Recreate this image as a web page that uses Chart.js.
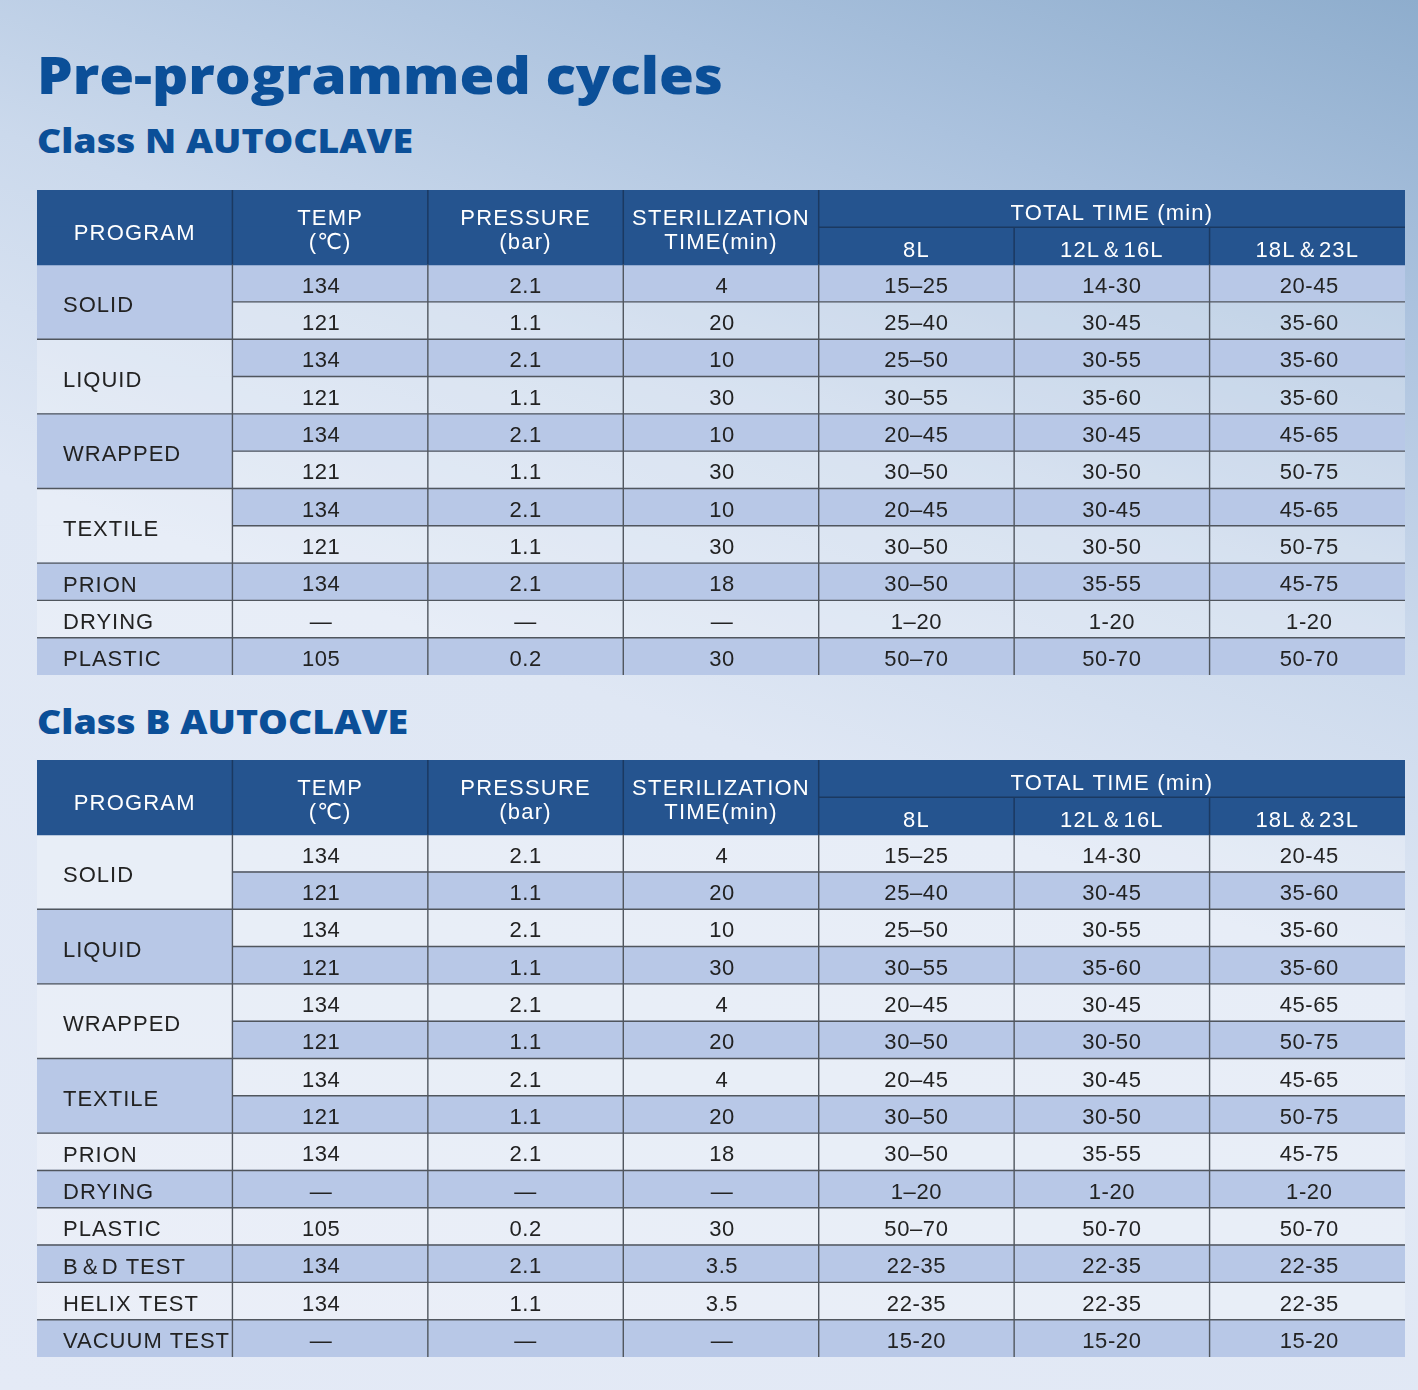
<!DOCTYPE html>
<html>
<head>
<meta charset="utf-8">
<script src="https://cdn.jsdelivr.net/npm/chart.js@4"></script>
<style>
html, body { margin: 0; padding: 0; }
body {
    width: 1418px; height: 1390px; position: relative; overflow: hidden;
    background: linear-gradient(200deg, #8eadcd 0%, #abc2de 16%, #cbd9ec 34%, #dfe7f4 52%, #e4eaf6 100%);
}
.ttl {
    position: absolute; left: 37px; margin: 0; color: #0b4f98;
    font-family: "Open Sans", "DejaVu Sans", sans-serif; font-weight: 800;
    line-height: 1; white-space: nowrap; transform-origin: 0 0;
}
canvas { position: absolute; left: 37px; }
</style>
</head>
<body>
<h1 class="ttl" id="t1" style="top:48px;font-size:52px" data-w="686">Pre-programmed cycles</h1>
<h2 class="ttl" id="t2" style="top:124px;font-size:33px" data-w="376">Class N AUTOCLAVE</h2>
<h2 class="ttl" id="t3" style="top:704px;font-size:34px" data-w="371">Class B AUTOCLAVE</h2>
<canvas id="tableN" width="1368" height="485" style="top:190px"></canvas>
<canvas id="tableB" width="1368" height="597" style="top:760px"></canvas>
<script>
// cabeceras
const headCols = [['PROGRAM'], ['TEMP', '(℃)'], ['PRESSURE', '(bar)'], ['STERILIZATION', 'TIME(min)']];
const totalLabel = 'TOTAL TIME (min)';
const sizeLabels = ['8L', '12L＆16L', '18L＆23L'];

// Class N
const nPrograms = ['SOLID', 'LIQUID', 'WRAPPED', 'TEXTILE', 'PRION', 'DRYING', 'PLASTIC'];
const nSpans = [2, 2, 2, 2, 1, 1, 1];
const nTemp = ['134', '121', '134', '121', '134', '121', '134', '121', '134', '—', '105'];
const nPressure = ['2.1', '1.1', '2.1', '1.1', '2.1', '1.1', '2.1', '1.1', '2.1', '—', '0.2'];
const nSterTime = ['4', '20', '10', '30', '10', '30', '10', '30', '18', '—', '30'];
const n8L = ['15–25', '25–40', '25–50', '30–55', '20–45', '30–50', '20–45', '30–50', '30–50', '1–20', '50–70'];
const n12L = ['14-30', '30-45', '30-55', '35-60', '30-45', '30-50', '30-45', '30-50', '35-55', '1-20', '50-70'];
const n18L = ['20-45', '35-60', '35-60', '35-60', '45-65', '50-75', '45-65', '50-75', '45-75', '1-20', '50-70'];

// Class B
const bPrograms = ['SOLID', 'LIQUID', 'WRAPPED', 'TEXTILE', 'PRION', 'DRYING', 'PLASTIC', 'B＆D TEST', 'HELIX TEST', 'VACUUM TEST'];
const bSpans = [2, 2, 2, 2, 1, 1, 1, 1, 1, 1];
const bTemp = ['134', '121', '134', '121', '134', '121', '134', '121', '134', '—', '105', '134', '134', '—'];
const bPressure = ['2.1', '1.1', '2.1', '1.1', '2.1', '1.1', '2.1', '1.1', '2.1', '—', '0.2', '2.1', '1.1', '—'];
const bSterTime = ['4', '20', '10', '30', '4', '20', '4', '20', '18', '—', '30', '3.5', '3.5', '—'];
const b8L = ['15–25', '25–40', '25–50', '30–55', '20–45', '30–50', '20–45', '30–50', '30–50', '1–20', '50–70', '22-35', '22-35', '15-20'];
const b12L = ['14-30', '30-45', '30-55', '35-60', '30-45', '30-50', '30-45', '30-50', '35-55', '1-20', '50-70', '22-35', '22-35', '15-20'];
const b18L = ['20-45', '35-60', '35-60', '35-60', '45-65', '50-75', '45-65', '50-75', '45-75', '1-20', '50-70', '22-35', '22-35', '15-20'];

const HEAD = '#25548f';
const BLUE = '#b8c8e7';
const LIGHT = 'rgba(255,255,255,0.25)';
const FONT = '"Liberation Sans", Arial, "DejaVu Sans", sans-serif';
// en el original la columna TEMP va un poco corrida a la izquierda
const colShift = [-9, 0, 1, 0, 0, 2];

// ajustar ancho de los titulos
document.querySelectorAll('.ttl').forEach(el => {
    const w = el.getBoundingClientRect().width;
    el.style.transform = 'scaleX(' + (+el.dataset.w / w) + ')';
});

function tablePlugin(programs, spans, columns) {
    return {
        id: 'tableDraw',
        afterDatasetsDraw(chart) {
            const { ctx, scales: { x, y } } = chart;
            const band = y.getPixelForValue(1) - y.getPixelForValue(0);
            const top = i => y.getPixelForValue(i) - band / 2;
            const mid = i => y.getPixelForValue(i);
            const cx = c => x.getPixelForValue(c);
            const nCols = columns.length + 1;
            const nRows = columns[0].length;
            const bottom = top(2 + nRows);

            ctx.save();
            // lineas de cabecera
            ctx.strokeStyle = '#1b3961';
            ctx.lineWidth = 1.5;
            ctx.beginPath();
            for (let c = 1; c <= 4; c++) { ctx.moveTo(cx(c), top(0)); ctx.lineTo(cx(c), top(2)); }
            for (let c = 5; c < nCols; c++) { ctx.moveTo(cx(c), top(1)); ctx.lineTo(cx(c), top(2)); }
            ctx.moveTo(cx(4), top(1)); ctx.lineTo(cx(nCols), top(1));
            ctx.stroke();

            // lineas de datos
            ctx.strokeStyle = '#50565e';
            ctx.lineWidth = 1.4;
            ctx.beginPath();
            for (let c = 1; c < nCols; c++) { ctx.moveTo(cx(c), top(2)); ctx.lineTo(cx(c), bottom); }
            const groupStart = new Set();
            let acc = 0;
            spans.forEach(n => { groupStart.add(acc); acc += n; });
            for (let r = 1; r < nRows; r++) {
                const yy = top(2 + r);
                ctx.moveTo(groupStart.has(r) ? cx(0) : cx(1), yy);
                ctx.lineTo(cx(nCols), yy);
            }
            ctx.stroke();

            // texto de cabecera
            ctx.fillStyle = '#ffffff';
            ctx.font = '22px ' + FONT;
            ctx.letterSpacing = '1.2px';
            ctx.textAlign = 'center';
            ctx.textBaseline = 'alphabetic';
            const hc = top(1);
            headCols.forEach((lines, c) => {
                const xm = (cx(c) + cx(c + 1)) / 2;
                if (lines.length === 1) ctx.fillText(lines[0], xm, hc + 12.5);
                else { ctx.fillText(lines[0], xm, hc - 2); ctx.fillText(lines[1], xm, hc + 22); }
            });
            ctx.fillText(totalLabel, (cx(4) + cx(nCols)) / 2, mid(0) + 11);
            sizeLabels.forEach((s, k) => ctx.fillText(s, (cx(4 + k) + cx(5 + k)) / 2, mid(1) + 11));

            // texto de datos
            ctx.fillStyle = '#222222';
            ctx.letterSpacing = '0.6px';
            columns.forEach((col, k) => {
                const xm = (cx(k + 1) + cx(k + 2)) / 2 + colShift[k];
                col.forEach((v, r) => ctx.fillText(v, xm, mid(2 + r) + 9.5));
            });
            ctx.textAlign = 'left';
            ctx.letterSpacing = '1px';
            acc = 0;
            programs.forEach((p, g) => {
                const yc = (top(2 + acc) + top(2 + acc + spans[g])) / 2;
                ctx.fillText(p, cx(0) + 26, yc + 10);
                acc += spans[g];
            });
            ctx.restore();
        }
    };
}

function crearTabla(id, programs, spans, columns, offset) {
    const labels = ['h1', 'h2'].concat(columns[0].map((_, i) => 'r' + i));
    const groupOf = [];
    spans.forEach((n, g) => { for (let k = 0; k < n; k++) groupOf.push(g); });
    const nCols = columns.length + 1;

    // solo las celdas opacas se ensanchan, para tapar las juntas
    const inflar = c => c.raw && c.dataset.backgroundColor[c.dataIndex] !== LIGHT ? 0.6 : 0;
    const base = { barPercentage: 1, categoryPercentage: 1, grouped: false, borderWidth: 0, inflateAmount: inflar };
    return new Chart(document.getElementById(id), {
        type: 'bar',
        data: {
            labels: labels,
            datasets: [
                Object.assign({
                    label: 'header',
                    data: labels.map((l, i) => i < 2 ? [0, nCols] : null),
                    backgroundColor: labels.map(() => HEAD)
                }, base),
                Object.assign({
                    label: 'program',
                    data: labels.map((l, i) => i < 2 ? null : [0, 1]),
                    backgroundColor: labels.map((l, i) => i < 2 ? HEAD : ((groupOf[i - 2] + offset) % 2 === 0 ? BLUE : LIGHT))
                }, base),
                Object.assign({
                    label: 'cells',
                    data: labels.map((l, i) => i < 2 ? null : [1, nCols]),
                    backgroundColor: labels.map((l, i) => i < 2 ? HEAD : ((i - 2 + offset) % 2 === 0 ? BLUE : LIGHT))
                }, base)
            ]
        },
        options: {
            indexAxis: 'y',
            responsive: false,
            animation: false,
            devicePixelRatio: 1,
            events: [],
            layout: { padding: 0 },
            scales: {
                x: { type: 'linear', min: 0, max: nCols, display: false },
                y: { type: 'category', display: false, offset: true }
            },
            plugins: { legend: { display: false }, tooltip: { enabled: false } }
        },
        plugins: [tablePlugin(programs, spans, columns)]
    });
}

crearTabla('tableN', nPrograms, nSpans, [nTemp, nPressure, nSterTime, n8L, n12L, n18L], 0);
crearTabla('tableB', bPrograms, bSpans, [bTemp, bPressure, bSterTime, b8L, b12L, b18L], 1);
</script>
</body>
</html>
